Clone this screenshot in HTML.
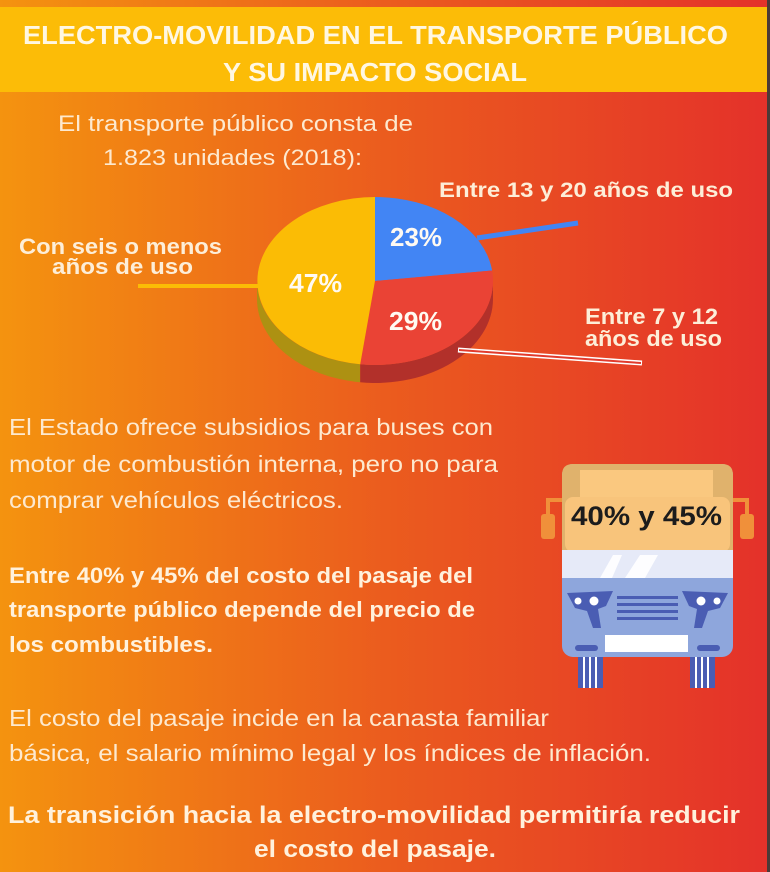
<!DOCTYPE html>
<html>
<head>
<meta charset="utf-8">
<style>
html,body{margin:0;padding:0;background:#e8452a;}
svg{display:block;}
text{font-family:"Liberation Sans",Arial,sans-serif;}
</style>
</head>
<body>
<svg width="770" height="872" viewBox="0 0 770 872" xmlns="http://www.w3.org/2000/svg">
<defs>
<linearGradient id="bg" x1="0" y1="0" x2="1" y2="0">
<stop offset="0" stop-color="#f4930f"/>
<stop offset="0.5" stop-color="#eb5c1e"/>
<stop offset="1" stop-color="#e4312a"/>
</linearGradient>
</defs>
<rect x="0" y="0" width="770" height="872" fill="url(#bg)"/>
<rect x="0" y="7" width="767" height="85" fill="#fcbc07"/>
<rect x="767" y="0" width="3" height="872" fill="#4b3a37"/>

<!-- Title -->
<g fill="#fff7e2" font-weight="bold" font-size="26">
<text x="23" y="44" textLength="705" lengthAdjust="spacingAndGlyphs">ELECTRO-MOVILIDAD EN EL TRANSPORTE PÚBLICO</text>
<text x="223" y="81" textLength="304" lengthAdjust="spacingAndGlyphs">Y SU IMPACTO SOCIAL</text>
</g>

<!-- Intro -->
<g fill="#fde9cf" font-size="22">
<text x="58" y="131" textLength="355" lengthAdjust="spacingAndGlyphs">El transporte público consta de</text>
<text x="103" y="165" textLength="259" lengthAdjust="spacingAndGlyphs">1.823 unidades (2018):</text>
</g>

<!-- Pie sides -->
<path d="M257,281 L257,299 A118,84 0 0 0 360.2,382.3 L360.2,364.3 A118,84 0 0 1 257,281 Z" fill="#ad9112"/>
<path d="M360.2,364.3 L360.2,382.3 A118,84 0 0 0 493,299 L493,281 A118,84 0 0 1 360.2,364.3 Z" fill="#b2302a"/>
<!-- Pie tops -->
<path d="M375,281 L375,197 A118,84 0 0 1 492.1,270.5 Z" fill="#4285f4"/>
<path d="M375,281 L492.1,270.5 A118,84 0 0 1 360.2,364.3 Z" fill="#ea4335"/>
<path d="M375,281 L360.2,364.3 A118,84 0 0 1 375,197 Z" fill="#fbbc05"/>

<g fill="#fffaf2" font-weight="bold" font-size="26">
<text x="390" y="246" textLength="52" lengthAdjust="spacingAndGlyphs">23%</text>
<text x="289" y="292" textLength="53" lengthAdjust="spacingAndGlyphs">47%</text>
<text x="389" y="330" textLength="53" lengthAdjust="spacingAndGlyphs">29%</text>
</g>

<!-- Leader lines -->
<line x1="138" y1="286" x2="258" y2="286" stroke="#fbbc05" stroke-width="4"/>
<line x1="477" y1="238" x2="578" y2="223" stroke="#4285f4" stroke-width="5"/>
<line x1="458" y1="350" x2="642" y2="363" stroke="#fff" stroke-width="5"/>
<line x1="459" y1="350" x2="641" y2="363" stroke="#e23a2c" stroke-width="2"/>

<!-- Pie labels -->
<g fill="#fdeed8" font-weight="bold">
<text x="439" y="197" font-size="21" textLength="294" lengthAdjust="spacingAndGlyphs">Entre 13 y 20 años de uso</text>
<text x="19" y="254" font-size="22" textLength="203" lengthAdjust="spacingAndGlyphs">Con seis o menos</text>
<text x="52" y="274" font-size="22" textLength="141" lengthAdjust="spacingAndGlyphs">años de uso</text>
<text x="585" y="324" font-size="22" textLength="133" lengthAdjust="spacingAndGlyphs">Entre 7 y 12</text>
<text x="585" y="346" font-size="22" textLength="137" lengthAdjust="spacingAndGlyphs">años de uso</text>
</g>

<!-- Block 1 -->
<g fill="#fde9cf" font-size="23">
<text x="9" y="435" textLength="484" lengthAdjust="spacingAndGlyphs">El Estado ofrece subsidios para buses con</text>
<text x="9" y="472" textLength="489" lengthAdjust="spacingAndGlyphs">motor de combustión interna, pero no para</text>
<text x="9" y="508" textLength="334" lengthAdjust="spacingAndGlyphs">comprar vehículos eléctricos.</text>
</g>
<g fill="#fff1dc" font-size="22" font-weight="bold">
<text x="9" y="583" textLength="464" lengthAdjust="spacingAndGlyphs">Entre 40% y 45% del costo del pasaje del</text>
<text x="9" y="617" textLength="466" lengthAdjust="spacingAndGlyphs">transporte público depende del precio de</text>
<text x="9" y="652" textLength="204" lengthAdjust="spacingAndGlyphs">los combustibles.</text>
</g>

<!-- Bottom -->
<g fill="#fde9cf" font-size="23">
<text x="9" y="726" textLength="540" lengthAdjust="spacingAndGlyphs">El costo del pasaje incide en la canasta familiar</text>
<text x="9" y="761" textLength="642" lengthAdjust="spacingAndGlyphs">básica, el salario mínimo legal y los índices de inflación.</text>
</g>
<g fill="#fff1dc" font-size="24" font-weight="bold">
<text x="8" y="823" textLength="732" lengthAdjust="spacingAndGlyphs">La transición hacia la electro-movilidad permitiría reducir</text>
<text x="254" y="857" textLength="242" lengthAdjust="spacingAndGlyphs">el costo del pasaje.</text>
</g>

<!-- Bus -->
<g>
<!-- mirrors -->
<path d="M562,500 L548,500 L548,515" fill="none" stroke="#f0903a" stroke-width="4"/>
<rect x="541" y="514" width="14" height="25" rx="3" fill="#f0903a"/>
<path d="M733,500 L747,500 L747,515" fill="none" stroke="#f0903a" stroke-width="4"/>
<rect x="740" y="514" width="14" height="25" rx="3" fill="#f0903a"/>
<!-- wheels -->
<rect x="578" y="655" width="25" height="33" fill="#4a5db3"/>
<rect x="690" y="655" width="25" height="33" fill="#4a5db3"/>
<g fill="#ffffff">
<rect x="583" y="657" width="2" height="31"/><rect x="589" y="657" width="2" height="31"/><rect x="595" y="657" width="2" height="31"/>
<rect x="695" y="657" width="2" height="31"/><rect x="701" y="657" width="2" height="31"/><rect x="707" y="657" width="2" height="31"/>
</g>
<!-- body -->
<rect x="562" y="464" width="171" height="193" rx="11" fill="#8ea6dc"/>
<path d="M573,464 L722,464 Q733,464 733,475 L733,552 L562,552 L562,475 Q562,464 573,464 Z" fill="#e0b26c"/>
<rect x="580" y="470" width="133" height="27" fill="#fac87f"/>
<rect x="565" y="497" width="165" height="55" rx="8" fill="#f8c47b"/>
<rect x="562" y="550" width="171" height="28" fill="#e6eaf8"/>
<polygon points="600,578 612,578 622,555 613,555" fill="#ffffff" opacity="0.9"/>
<polygon points="625,578 645,578 658,555 640,555" fill="#ffffff" opacity="0.9"/>
<!-- headlights -->
<path d="M567,593 L613,591 L606,606 L598,609 L601,628 L593,628 L587,611 L575,608 Z" fill="#4a5db3"/>
<path d="M728,593 L682,591 L689,606 L697,609 L694,628 L702,628 L708,611 L720,608 Z" fill="#4a5db3"/>
<circle cx="578" cy="601" r="3.5" fill="#fff"/>
<circle cx="594" cy="601" r="4.5" fill="#fff"/>
<circle cx="717" cy="601" r="3.5" fill="#fff"/>
<circle cx="701" cy="601" r="4.5" fill="#fff"/>
<!-- grille -->
<g fill="#4a5db3">
<rect x="617" y="596" width="61" height="3"/>
<rect x="617" y="603" width="61" height="3"/>
<rect x="617" y="610" width="61" height="3"/>
<rect x="617" y="617" width="61" height="3"/>
</g>
<rect x="605" y="635" width="83" height="17" fill="#ffffff"/>
<rect x="575" y="645" width="23" height="6" rx="3" fill="#4a5db3"/>
<rect x="697" y="645" width="23" height="6" rx="3" fill="#4a5db3"/>
<text x="571" y="525" font-size="27" font-weight="bold" fill="#1c1c1c" textLength="151" lengthAdjust="spacingAndGlyphs">40% y 45%</text>
</g>
</svg>
</body>
</html>
